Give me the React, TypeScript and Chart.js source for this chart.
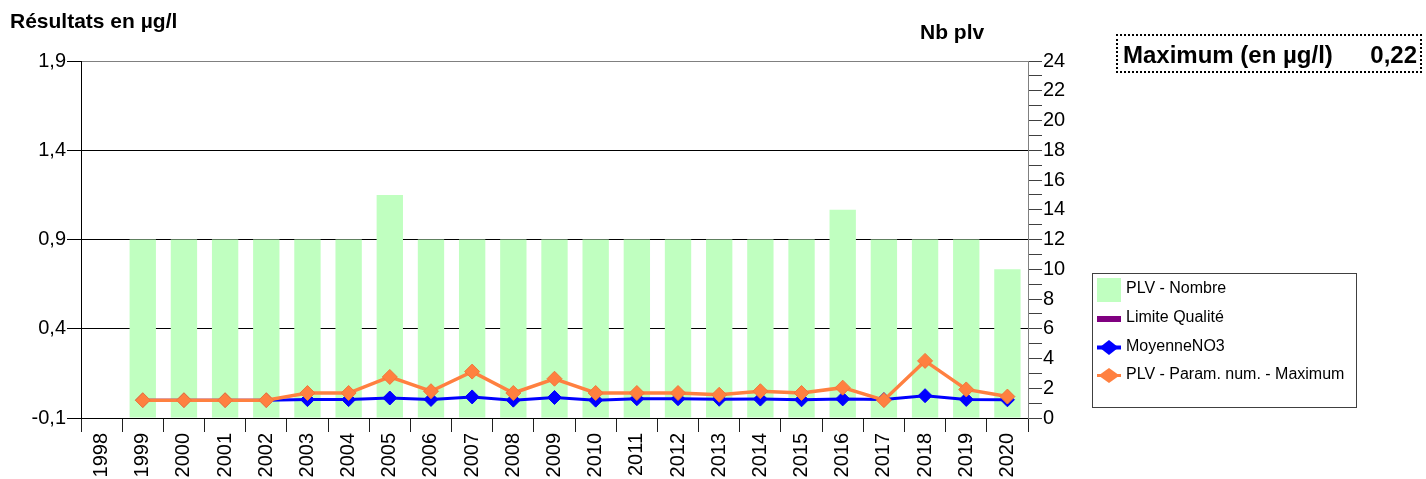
import React, { useEffect, useRef } from 'react';
import { Chart, registerables } from 'chart.js';

Chart.register(...registerables);

const FONT = "'Liberation Sans', Arial, Helvetica, sans-serif";

const years = ['1998', '1999', '2000', '2001', '2002', '2003', '2004', '2005', '2006', '2007', '2008', '2009', '2010', '2011', '2012', '2013', '2014', '2015', '2016', '2017', '2018', '2019', '2020'];

const plvNombre = [null, 12, 12, 12, 12, 12, 12, 15, 12, 12, 12, 12, 12, 12, 12, 12, 12, 12, 14, 12, 12, 12, 10];

const limiteQualite = [null, null, null, null, null, null, null, null, null, null, null, null, null, null, null, null, null, null, null, null, null, null, null];

const moyenneNO3 = [null, 0, 0, 0, 0, 0.003, 0.003, 0.012, 0.004, 0.018, 0, 0.015, 0, 0.008, 0.008, 0.005, 0.006, 0.002, 0.007, 0.003, 0.025, 0.004, 0.002];

const plvMaximum = [null, 0, 0, 0, 0, 0.04, 0.04, 0.13, 0.05, 0.16, 0.04, 0.12, 0.04, 0.04, 0.04, 0.03, 0.05, 0.04, 0.07, 0, 0.22, 0.06, 0.02];

const leftTicks = [-0.1, 0.4, 0.9, 1.4, 1.9];

const rightTicks = [0, 1, 2, 3, 4, 5, 6, 7, 8, 9, 10, 11, 12, 13, 14, 15, 16, 17, 18, 19, 20, 21, 22, 23, 24];
const rightTickLabels = ['0', '', '2', '', '4', '', '6', '', '8', '', '10', '', '12', '', '14', '', '16', '', '18', '', '20', '', '22', '', '24'];

const leftTitle = 'Résultats en µg/l';
const rightTitle = 'Nb plv';
const maxLabel = 'Maximum (en µg/l)';
const maxValue = '0,22';

const fmtLeft = (v: number) => v.toFixed(1).replace('.', ',');

const legendPlugin = {
  id: 'customLegendBox',
  afterDraw(chart: any) {
    const ctx = chart.ctx as CanvasRenderingContext2D;
    const ds = chart.data.datasets;
    ctx.save();
    ctx.strokeStyle = '#404040';
    ctx.lineWidth = 1;
    ctx.strokeRect(1092.5, 273.5, 264, 134);

    ctx.font = `16px ${FONT}`;
    ctx.fillStyle = '#000';
    ctx.textAlign = 'left';
    ctx.textBaseline = 'alphabetic';
    const tx = 1126;
    const baselines = [293, 322, 350.5, 379];

    // bar item
    ctx.fillStyle = ds[0].backgroundColor;
    ctx.fillRect(1097, 278, 24, 24);
    // limit item
    ctx.fillStyle = ds[1].borderColor;
    ctx.fillRect(1097, 316, 24, 6);

    const lineItem = (color: string, lw: number, cy: number, hw: number, hh: number) => {
      ctx.strokeStyle = color;
      ctx.lineWidth = lw;
      ctx.beginPath();
      ctx.moveTo(1097, cy);
      ctx.lineTo(1121, cy);
      ctx.stroke();
      ctx.fillStyle = color;
      const cx = 1109;
      ctx.beginPath();
      ctx.moveTo(cx - hw, cy);
      ctx.lineTo(cx, cy - hh);
      ctx.lineTo(cx + hw, cy);
      ctx.lineTo(cx, cy + hh);
      ctx.closePath();
      ctx.fill();
    };
    lineItem(ds[2].borderColor, 4, 347.5, 9.5, 7.5);
    lineItem(ds[3].borderColor, 3, 375.5, 10.5, 7.5);

    ctx.fillStyle = '#000';
    ds.forEach((d: any, i: number) => {
      ctx.fillText(d.label, tx, baselines[i]);
    });
    ctx.restore();
  },
};

export default function App() {
  const canvasRef = useRef<HTMLCanvasElement | null>(null);

  useEffect(() => {
    if (!canvasRef.current) return;
    const chart = new Chart(canvasRef.current, {
      type: 'bar',
      data: {
        labels: years,
        datasets: [
          {
            type: 'bar',
            label: 'PLV - Nombre',
            data: plvNombre,
            yAxisID: 'y1',
            backgroundColor: '#C0FFC0',
            borderWidth: 0,
            categoryPercentage: 1,
            barPercentage: 0.64,
            order: 3,
          },
          {
            type: 'line',
            label: 'Limite Qualité',
            data: limiteQualite,
            yAxisID: 'y',
            borderColor: '#800080',
            backgroundColor: '#800080',
            borderWidth: 3,
            pointRadius: 0,
            order: 2,
          },
          {
            type: 'line',
            label: 'MoyenneNO3',
            data: moyenneNO3,
            yAxisID: 'y',
            borderColor: '#0000FF',
            backgroundColor: '#0000FF',
            borderWidth: 3,
            pointStyle: 'rectRot',
            pointRadius: 7,
            pointBorderWidth: 1,
            pointBorderColor: '#0000FF',
            pointBackgroundColor: '#0000FF',
            tension: 0,
            order: 1,
          },
          {
            type: 'line',
            label: 'PLV - Param. num. - Maximum',
            data: plvMaximum,
            yAxisID: 'y',
            borderColor: '#FF8040',
            backgroundColor: '#FF8040',
            borderWidth: 3.5,
            pointStyle: 'rectRot',
            pointRadius: 7.5,
            pointBorderWidth: 1,
            pointBorderColor: '#F07838',
            pointBackgroundColor: '#FF8040',
            tension: 0,
            order: 0,
          },
        ],
      },
      options: {
        animation: false,
        responsive: true,
        maintainAspectRatio: false,
        layout: { padding: { top: 61, left: 0, right: 338, bottom: 0 } },
        plugins: {
          legend: { display: false },
          tooltip: { enabled: false },
        },
        scales: {
          x: {
            offset: true,
            grid: {
              offset: true,
              drawOnChartArea: false,
              drawTicks: true,
              tickLength: 14,
              color: '#202020',
            },
            border: { display: true, color: '#000', width: 1 },
            ticks: {
              autoSkip: false,
              minRotation: 90,
              maxRotation: 90,
              padding: 1,
              color: '#000',
              font: { size: 20, family: FONT },
            },
            afterFit: (s: any) => {
              s.height = 61;
            },
          },
          y: {
            position: 'left',
            min: -0.1,
            max: 1.9,
            afterBuildTicks: (s: any) => {
              s.ticks = leftTicks.map((v) => ({ value: v }));
            },
            grid: {
              drawOnChartArea: true,
              drawTicks: true,
              tickLength: 14,
              color: (c: any) => (c.tick && c.tick.value === 1.9 ? '#808080' : '#000'),
              tickColor: '#000',
            },
            border: { display: true, color: '#000', width: 1 },
            ticks: {
              autoSkip: false,
              padding: 1,
              color: '#000',
              font: { size: 20, family: FONT },
              callback: (v: any) => fmtLeft(Number(v)),
            },
            afterFit: (s: any) => {
              s.width = 81;
            },
          },
          y1: {
            position: 'right',
            min: 0,
            max: 24,
            afterBuildTicks: (s: any) => {
              s.ticks = rightTicks.map((v) => ({ value: v }));
            },
            grid: {
              drawOnChartArea: false,
              drawTicks: true,
              tickLength: 14,
              color: '#404040',
            },
            border: { display: true, color: '#808080', width: 1 },
            ticks: {
              autoSkip: false,
              padding: 1,
              color: '#000',
              font: { size: 20, family: FONT },
              callback: (_v: any, i: number) => rightTickLabels[i],
            },
            afterFit: (s: any) => {
              s.width = 60;
            },
          },
        },
      },
      plugins: [legendPlugin],
    } as any);
    return () => chart.destroy();
  }, []);

  const textBase: React.CSSProperties = {
    position: 'absolute',
    fontFamily: FONT,
    fontWeight: 'bold',
    lineHeight: 1,
    whiteSpace: 'nowrap',
    color: '#000',
  };

  return (
    <div style={{ position: 'absolute', left: 0, top: 0, width: 1426, height: 479, background: '#fff' }}>
      <div style={{ position: 'absolute', left: 0, top: 0, width: 1426, height: 479 }}>
        <canvas ref={canvasRef} />
      </div>
      <div style={{ ...textBase, left: 10, top: 10, fontSize: 21 }}>{leftTitle}</div>
      <div style={{ ...textBase, left: 920, top: 21, fontSize: 21 }}>{rightTitle}</div>
      <div
        style={{
          position: 'absolute',
          left: 1116,
          top: 34,
          width: 306,
          height: 39,
          boxSizing: 'border-box',
          border: '2px dotted #000',
        }}
      >
        <div style={{ ...textBase, left: 5, top: 7, fontSize: 24 }}>{maxLabel}</div>
        <div style={{ ...textBase, right: 3, top: 7, fontSize: 24 }}>{maxValue}</div>
      </div>
    </div>
  );
}
